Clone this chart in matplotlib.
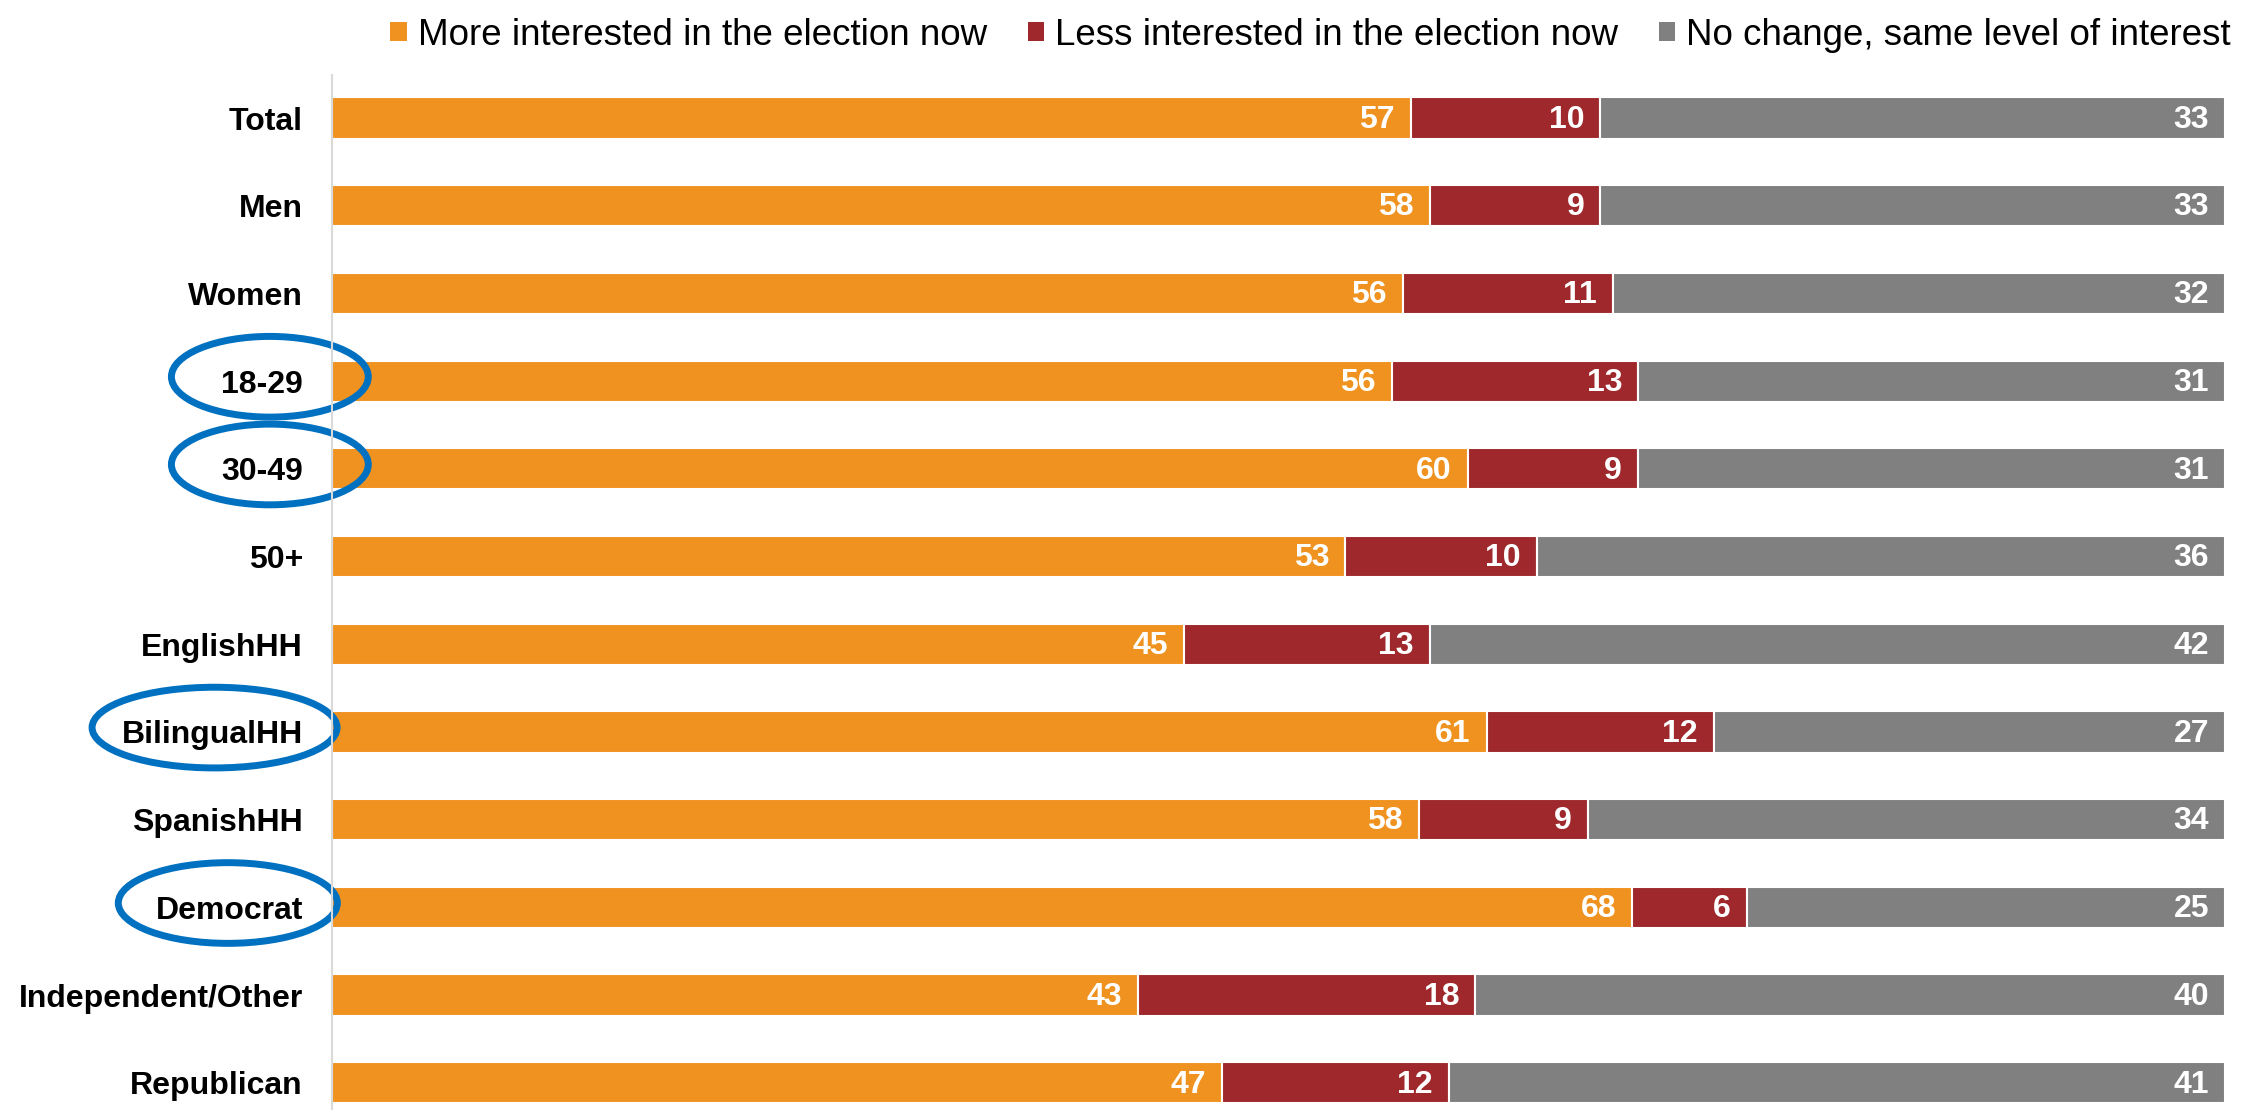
import numpy as np
import matplotlib
matplotlib.use("Agg")
from matplotlib import pyplot as plt
from matplotlib.patches import Patch, Ellipse
from matplotlib.transforms import blended_transform_factory

plt.rcParams['font.family'] = ['Liberation Sans', 'DejaVu Sans']

categories = ["Total", "Men", "Women", "18-29", "30-49", "50+", "EnglishHH",
              "BilingualHH", "SpanishHH", "Democrat", "Independent/Other", "Republican"]
more_interested = [57, 58, 56, 56, 60, 53, 45, 61, 58, 68, 43, 47]
less_interested = [10, 9, 11, 13, 9, 10, 13, 12, 9, 6, 18, 12]
no_change = [33, 33, 32, 31, 31, 36, 42, 27, 34, 25, 40, 41]
series_names = ["More interested in the election now",
                "Less interested in the election now",
                "No change, same level of interest"]
highlighted = ["18-29", "30-49", "BilingualHH", "Democrat"]

COLORS = ["#F09220", "#9E282B", "#808080"]
CIRCLE_COLOR = "#0070C0"

raw = np.array([more_interested, less_interested, no_change], dtype=float)
# 100% stacked, like the original
shares = raw / raw.sum(axis=0) * 100

fig = plt.figure(figsize=(22.55, 11.10), dpi=100)
ax = fig.add_axes([0.1472, 0.0, 0.9867 - 0.1472, 0.9324])

y = np.arange(len(categories))
left = np.zeros(len(categories))
for k in range(3):
    bars = ax.barh(y, shares[k], left=left, height=0.47, color=COLORS[k],
                   edgecolor="white", linewidth=1.5, label=series_names[k])
    for i, b in enumerate(bars):
        ax.text(b.get_x() + b.get_width() - 0.85, i + 0.02, f"{int(raw[k, i])}",
                ha="right", va="center", color="white", fontsize=23,
                fontweight="bold")
    left += shares[k]

ax.set_xlim(0, 100)
ax.set_ylim(11.31, -0.49)
ax.set_yticks(y)
ax.set_yticklabels(categories, fontsize=23, fontweight="bold")
ax.tick_params(axis="y", length=0, pad=21)
ax.set_xticks([])
for side in ["top", "right", "bottom"]:
    ax.spines[side].set_visible(False)
ax.spines["left"].set_color("#D9D9D9")
ax.spines["left"].set_linewidth(1.5)

# blue circles around the highlighted groups (center, width in axes fraction)
ellipse_pos = {"18-29": (-0.0328, 0.104), "30-49": (-0.0328, 0.104),
               "BilingualHH": (-0.062, 0.1294), "Democrat": (-0.055, 0.1157)}
trans = blended_transform_factory(ax.transAxes, ax.transData)
for name in highlighted:
    i = categories.index(name)
    cx, w = ellipse_pos[name]
    e = Ellipse((cx, i - 0.05), w, 0.92, transform=trans,
                fill=False, edgecolor=CIRCLE_COLOR, linewidth=5, clip_on=False)
    ax.add_patch(e)

handles = [Patch(facecolor=c, edgecolor="none") for c in COLORS]
fig.legend(handles, series_names, loc="upper right", bbox_to_anchor=(1.004, 1.014),
           ncol=3, frameon=False, fontsize=26.5, handlelength=0.45, handleheight=0.45,
           handletextpad=0.3, columnspacing=1.1)

fig.savefig("out.png", dpi=100)
